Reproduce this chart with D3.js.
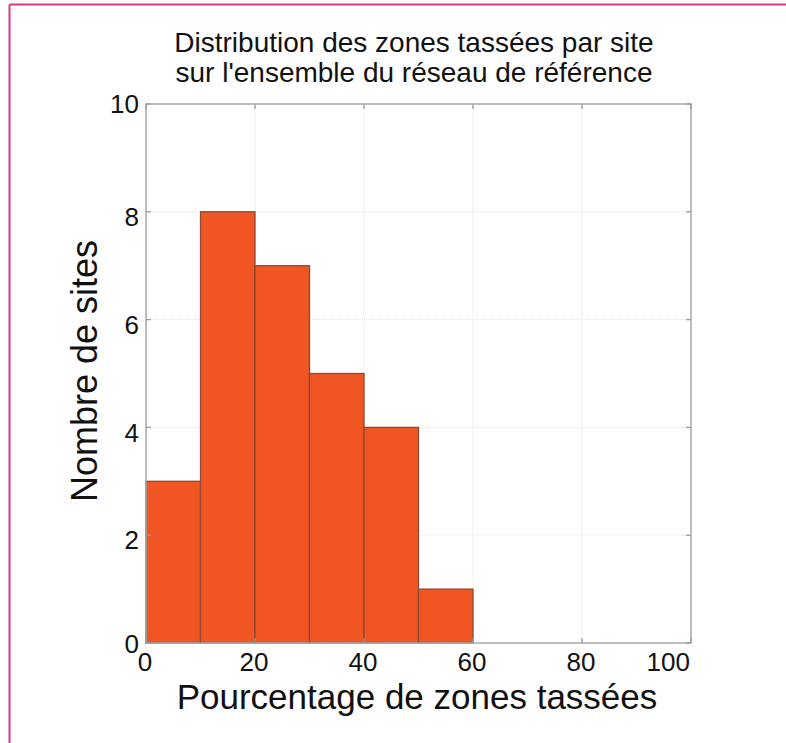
<!DOCTYPE html>
<html>
<head>
<meta charset="utf-8">
<script src="https://cdn.jsdelivr.net/npm/d3@7"></script>
<style>
  html, body { margin: 0; padding: 0; background: #fff; }
  svg text { font-family: "Liberation Sans", Arial, Helvetica, sans-serif; fill: #111; }
</style>
</head>
<body>
<script>
// ---- data ----
const binStarts = [0, 10, 20, 30, 40, 50, 60, 70, 80, 90];
const binWidth = 10;
const counts = [3, 8, 7, 5, 4, 1, 0, 0, 0, 0];
const xTicks = [0, 20, 40, 60, 80, 100];
const yTicks = [0, 2, 4, 6, 8, 10];
const titleLines = ["Distribution des zones tassées par site", "sur l'ensemble du réseau de référence"];
const xLabel = "Pourcentage de zones tassées";
const yLabel = "Nombre de sites";

const W = 786, H = 743;
const pL = 146, pR = 691, pT = 104, pB = 643;

const svg = d3.select("body").append("svg").attr("width", W).attr("height", H);

// page border (pink)
svg.append("line").attr("x1", 9.5).attr("x2", W).attr("y1", 4.5).attr("y2", 4.5)
  .attr("stroke", "#d8378a").attr("stroke-width", 2);
svg.append("line").attr("x1", 9.5).attr("x2", 9.5).attr("y1", 4.5).attr("y2", H)
  .attr("stroke", "#d8378a").attr("stroke-width", 2);

const x = d3.scaleLinear().domain([0, 100]).range([pL, pR]);
const y = d3.scaleLinear().domain([0, 10]).range([pB, pT]);

// grid
const grid = svg.append("g");
grid.selectAll(".gx").data(xTicks.slice(1, -1)).join("line")
  .attr("x1", d => x(d)).attr("x2", d => x(d)).attr("y1", pT).attr("y2", pB)
  .attr("stroke", "#e2e2e2").attr("stroke-width", 1).attr("stroke-dasharray", "1,1");
grid.selectAll(".gy").data(yTicks.slice(1, -1)).join("line")
  .attr("y1", d => y(d)).attr("y2", d => y(d)).attr("x1", pL).attr("x2", pR)
  .attr("stroke", "#e2e2e2").attr("stroke-width", 1).attr("stroke-dasharray", "1,1");

// bars
const bars = binStarts.map((s, i) => ({ x0: s, x1: s + binWidth, v: counts[i] })).filter(d => d.v > 0);
svg.append("g").selectAll("rect").data(bars).join("rect")
  .attr("x", d => x(d.x0)).attr("width", d => x(d.x1) - x(d.x0))
  .attr("y", d => y(d.v)).attr("height", d => y(0) - y(d.v))
  .attr("fill", "#f05523").attr("stroke", "#8a4a35").attr("stroke-width", 1.3);

// axes box
svg.append("rect").attr("x", pL).attr("y", pT).attr("width", pR - pL).attr("height", pB - pT)
  .attr("fill", "none").attr("stroke", "#a8a8a8").attr("stroke-width", 1.5);

// inward ticks
const tl = 5;
const axisG = svg.append("g").attr("stroke", "#9a9a9a").attr("stroke-width", 1.3);
xTicks.forEach(t => {
  axisG.append("line").attr("x1", x(t)).attr("x2", x(t)).attr("y1", pB).attr("y2", pB - tl);
  axisG.append("line").attr("x1", x(t)).attr("x2", x(t)).attr("y1", pT).attr("y2", pT + tl);
});
yTicks.forEach(t => {
  axisG.append("line").attr("y1", y(t)).attr("y2", y(t)).attr("x1", pL).attr("x2", pL + tl);
  axisG.append("line").attr("y1", y(t)).attr("y2", y(t)).attr("x1", pR).attr("x2", pR - tl);
});

// tick labels
svg.append("g").selectAll("text").data(xTicks).join("text")
  .attr("x", d => x(d) - 1).attr("y", 671)
  .attr("text-anchor", (d, i) => i === xTicks.length - 1 ? "end" : "middle")
  .attr("font-size", 26)
  .text(d => d);
svg.append("g").selectAll("text").data(yTicks).join("text")
  .attr("x", 139)
  .attr("y", (d, i) => y(d) + (i === 0 ? 1 : i === yTicks.length - 1 ? 0 : 5))
  .attr("dy", "0.35em")
  .attr("text-anchor", "end")
  .attr("font-size", 26)
  .text(d => d);

// title
svg.append("g").selectAll("text").data(titleLines).join("text")
  .attr("x", 414).attr("y", (d, i) => 52 + i * 30)
  .attr("text-anchor", "middle").attr("font-size", 28)
  .text(d => d);

// axis labels
svg.append("text").attr("x", 417).attr("y", 709).attr("text-anchor", "middle")
  .attr("font-size", 35).text(xLabel);
svg.append("text").attr("transform", "translate(97,371) rotate(-90)").attr("text-anchor", "middle")
  .attr("font-size", 36).text(yLabel);
</script>
</body>
</html>
